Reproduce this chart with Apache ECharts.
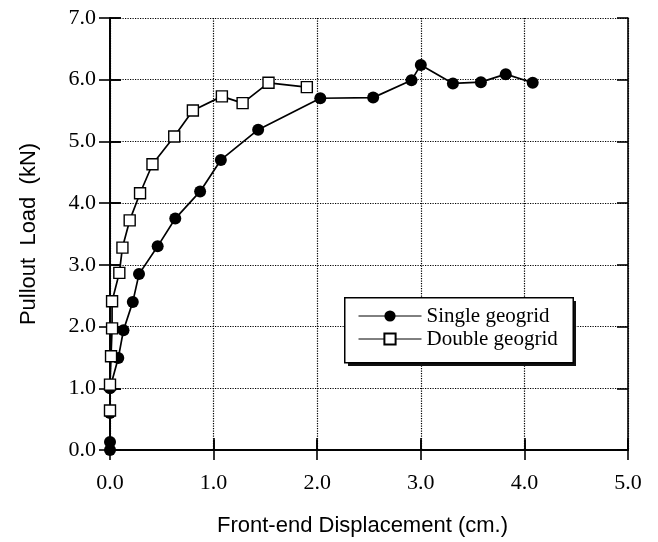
<!DOCTYPE html>
<html>
<head>
<meta charset="utf-8">
<script src="https://cdn.jsdelivr.net/npm/echarts@6/dist/echarts.min.js"></script>
<style>
  html, body { margin: 0; padding: 0; background: #fff; }
  #chart { width: 658px; height: 542px; }
</style>
</head>
<body>
<div id="chart"></div>
<script>
// Pullout test: load vs. front-end displacement
const seriesNames = ['Single geogrid', 'Double geogrid'];
const singleX = [0.0, 0.0, 0.0, 0.0, 0.08, 0.13, 0.22, 0.28, 0.46, 0.63, 0.87, 1.07, 1.43, 2.03, 2.54, 2.91, 3.0, 3.31, 3.58, 3.82, 4.08];
const singleY = [0.0, 0.13, 0.6, 1.0, 1.49, 1.94, 2.4, 2.85, 3.3, 3.75, 4.19, 4.7, 5.19, 5.7, 5.71, 5.99, 6.24, 5.94, 5.96, 6.09, 5.95];
const doubleX = [0.0, 0.0, 0.01, 0.02, 0.02, 0.09, 0.12, 0.19, 0.29, 0.41, 0.62, 0.8, 1.08, 1.28, 1.53, 1.9];
const doubleY = [0.64, 1.06, 1.52, 1.97, 2.41, 2.87, 3.28, 3.72, 4.16, 4.63, 5.08, 5.5, 5.73, 5.62, 5.95, 5.88];
const xTicks = [0, 1, 2, 3, 4, 5];
const yTicks = [0, 1, 2, 3, 4, 5, 6, 7];

const SERIF = 'Liberation Serif';
const SANS = 'Liberation Sans';

const pairs = (xs, ys) => xs.map((x, i) => [x, ys[i]]);

const xMin = xTicks[0], xMax = xTicks[xTicks.length - 1];
const yMin = yTicks[0], yMax = yTicks[yTicks.length - 1];

const dotted = { show: true, lineStyle: { color: '#000', width: 1.2, type: [1.2, 1.3] } };
const axisLine = { show: true, lineStyle: { color: '#000', width: 1.6 } };

function xAxisDef(pos, tickInside, withLabels, withGrid) {
  return {
    type: 'value', position: pos, min: xMin, max: xMax, interval: 1,
    axisLine: axisLine,
    axisTick: { show: true, inside: tickInside, length: pos === 'top' ? 12 : 10, lineStyle: { color: '#000', width: 1.6 } },
    axisLabel: withLabels ? {
      show: true, margin: 22, color: '#000', fontFamily: SERIF, fontSize: 22,
      formatter: v => v.toFixed(1)
    } : { show: false },
    splitLine: withGrid ? dotted : { show: false }
  };
}
function yAxisDef(pos, tickInside, withLabels, withGrid) {
  return {
    type: 'value', position: pos, min: yMin, max: yMax, interval: 1,
    axisLine: axisLine,
    axisTick: { show: true, inside: tickInside, length: 11, lineStyle: { color: '#000', width: 1.6 } },
    axisLabel: withLabels ? {
      show: true, margin: 14, color: '#000', fontFamily: SERIF, fontSize: 22,
      formatter: v => v.toFixed(1)
    } : { show: false },
    splitLine: withGrid ? dotted : { show: false }
  };
}

const xMain = xAxisDef('bottom', false, true, true);
xMain.name = 'Front-end Displacement (cm.)';
xMain.nameLocation = 'middle';
xMain.nameGap = 65;
xMain.nameTextStyle = { fontFamily: SANS, fontSize: 22, color: '#000', padding: [0, 13, 0, 0] };

const yMain = yAxisDef('left', false, true, true);
yMain.name = 'Pullout  Load  (kN)';
yMain.nameLocation = 'middle';
yMain.nameGap = 70;
yMain.nameTextStyle = { fontFamily: SANS, fontSize: 22, color: '#000' };

const chart = echarts.init(document.getElementById('chart'), null, { renderer: 'canvas' });
chart.setOption({
  animation: false,
  backgroundColor: '#fff',
  grid: { left: 110, top: 18, width: 518, height: 432, containLabel: false },
  xAxis: [
    xMain,
    xAxisDef('bottom', true, false, false),
    xAxisDef('top', false, false, false)
  ],
  yAxis: [
    yMain,
    yAxisDef('left', true, false, false),
    yAxisDef('right', false, false, false),
    yAxisDef('right', true, false, false)
  ],
  // legend frame with a solid drop shadow
  graphic: [
    { type: 'rect', z: 3, left: 348, top: 301, shape: { width: 228, height: 65 }, style: { fill: '#111' } },
    { type: 'rect', z: 3, left: 344, top: 297, shape: { width: 228.5, height: 65 }, style: { fill: '#fff', stroke: '#000', lineWidth: 1.5 } }
  ],
  legend: {
    orient: 'vertical',
    left: 344, top: 297,
    padding: [8, 14, 11, 14],
    itemGap: 1,
    itemWidth: 63, itemHeight: 14,
    lineStyle: { width: 1, color: '#000' },
    textStyle: { fontFamily: SERIF, fontSize: 21, color: '#000', lineHeight: 22 },
    data: seriesNames
  },
  series: [
    {
      name: seriesNames[0], type: 'line', xAxisIndex: 0, yAxisIndex: 0,
      data: pairs(singleX, singleY),
      symbol: 'circle', symbolSize: 12,
      itemStyle: { color: '#000' },
      lineStyle: { color: '#000', width: 1.7 },
      z: 3
    },
    {
      name: seriesNames[1], type: 'line', xAxisIndex: 0, yAxisIndex: 0,
      data: pairs(doubleX, doubleY),
      symbol: 'rect', symbolSize: 11,
      itemStyle: { color: '#fff', borderColor: '#000', borderWidth: 1.4 },
      lineStyle: { color: '#000', width: 1.7 },
      z: 4
    }
  ]
});
</script>
</body>
</html>
